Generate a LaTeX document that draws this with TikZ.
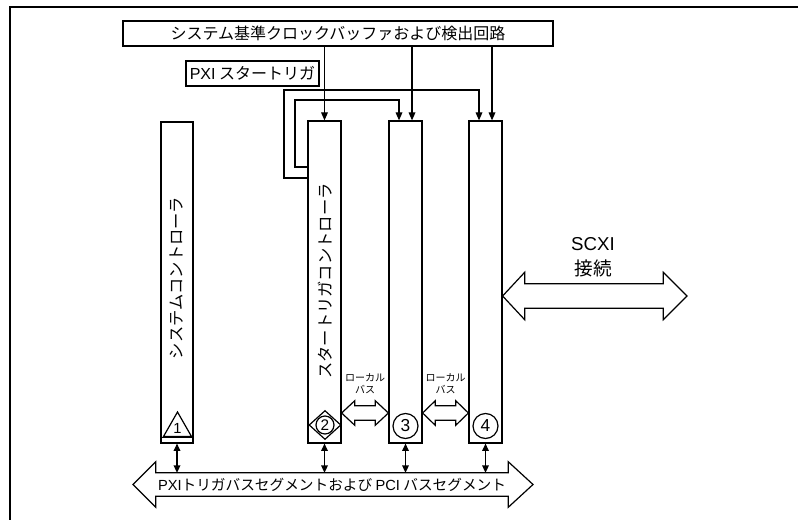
\documentclass[tikz,border=0pt]{standalone}
\usepackage{fontspec}
\setmainfont{Noto Sans CJK JP}
\newfontfamily\lat{Liberation Sans}
\usetikzlibrary{arrows.meta,calc,shapes.geometric}
\tikzset{
  ln/.style={line width=0.9pt},
  box/.style={draw, ln, inner sep=0pt, font=\fontsize{12}{14}\selectfont},
  module/.style={draw, ln, inner sep=0pt, minimum width=24.75pt, minimum height=241.5pt},
  vlabel/.style={rotate=90, inner sep=0pt, font=\fontsize{12.2}{14}\selectfont},
  arr/.style={ln, -{Triangle[length=6pt,width=5pt]}},
  darr/.style={ln, {Triangle[length=5.5pt,width=5pt]}-{Triangle[length=5.5pt,width=5pt]}},
  shaft/.style={inner sep=0pt},
  outline/.style={draw, ln, line join=miter},
  smalllbl/.style={align=center, inner sep=0pt, font=\fontsize{7.5}{9}\selectfont},
  badge/.style={draw, ln, circle, inner sep=0pt},
}
\newcommand\dblarrowpath[4]{%
  \draw[outline] (#1.north west) -- (#1.north east) -- ++(0,-#2) -- (#4)
    -- ($(#1.south east)+(0,#2)$) -- (#1.south east) -- (#1.south west)
    -- ++(0,#2) -- (#3) -- ($(#1.north west)+(0,-#2)$) -- cycle;}
\begin{document}
\begin{tikzpicture}[x=0.75pt,y=-0.75pt]
\useasboundingbox (0,0) rectangle (798,520);
% frame
\draw[line width=1.5pt, line join=miter] (798,7) -- (10,7) -- (10,520);

% top boxes
\node[box, minimum width=322.5pt, minimum height=18.75pt] (clk) at (338,33.5) {システム基準クロックバッファおよび検出回路};
\node[box, minimum width=99.75pt, minimum height=18.75pt] (pxi) at (252.5,73.5) {{\lat PXI} スタートリガ};

% modules
\node[module, minimum width=24pt, minimum height=240.75pt] (m1) at (177,282.5) {};
\node[module] (m2) at (324.5,282) {};
\node[module] (m3) at (405.5,282) {};
\node[module] (m4) at (485.5,282) {};

\node[vlabel] (t1) at (177,278) {システムコントローラ};
\node[vlabel] (t2) at (325,281) {スタートリガコントローラ};

% clock lines
\coordinate (x3) at (412,0);
\coordinate (x4) at (492,0);
\draw[arr] (clk.south -| m2.north) -- (m2.north);
\draw[arr] (clk.south -| x3) -- (x3 |- m3.north);
\draw[arr] (clk.south -| x4) -- (x4 |- m4.north);

% trigger loops
\coordinate (ia) at (295,167);
\coordinate (ib) at (295,100);
\coordinate (ic) at (399,100);
\draw[arr] (m2.west |- ia) -- (ia) -- (ib) -- (ic) -- (ic |- m3.north);
\coordinate (oa) at (284,178);
\coordinate (ob) at (284,90);
\coordinate (oc) at (479,90);
\draw[arr] (m2.west |- oa) -- (oa) -- (ob) -- (oc) -- (oc |- m4.north);

% badges
\coordinate (b1) at (177,437.5);
\draw[ln] (m1.west |- b1) -- (m1.east |- b1);
\draw[ln, line join=miter] (163.5,436.5) -- (177.5,412) -- (191.5,436.5) -- cycle;
\node[inner sep=0pt, font=\lat\fontsize{11}{12}\selectfont] (n1) at (177.5,428) {1};
\node[draw, ln, diamond, inner sep=0pt, minimum width=24pt, minimum height=21.75pt] (d2) at (325,425) {};
\node[badge, minimum size=13.5pt, font=\lat\fontsize{11.5}{12}\selectfont] (c2) at (325,425) {2};
\node[badge, minimum size=18.75pt, font=\lat\fontsize{13}{14}\selectfont] (c3) at (405.5,426) {3};
\node[badge, minimum size=18.75pt, font=\lat\fontsize{13}{14}\selectfont] (c4) at (485.5,426) {4};

% local buses
\node[shaft, minimum width=15pt, minimum height=10.5pt] (lb1) at (365,413) {};
\dblarrowpath{lb1}{5}{m2.east |- lb1}{m3.west |- lb1}
\node[smalllbl] (ll1) at (365,384) {ローカル\\バス};
\node[shaft, minimum width=15pt, minimum height=10.5pt] (lb2) at (445.5,413) {};
\dblarrowpath{lb2}{5}{m3.east |- lb2}{m4.west |- lb2}
\node[smalllbl] (ll2) at (445.5,384) {ローカル\\バス};

% SCXI
\node[shaft, minimum width=103.5pt, minimum height=18pt] (sc) at (594,296) {};
\coordinate (scR) at (687,296);
\dblarrowpath{sc}{11.5}{m4.east |- sc}{scR}
\node[align=center, inner sep=0pt, font=\fontsize{14}{19}\selectfont] (scl) at (593,257) {{\lat SCXI}\\接続};

% bottom bus
\node[shaft, minimum width=264pt, minimum height=17.25pt, font=\fontsize{11}{13}\selectfont] (bus) at (332,484.5) {{\lat PXI}トリガバスセグメントおよび {\lat PCI} バスセグメント};
\coordinate (busL) at (133,484.5);
\coordinate (busR) at (533,484.5);
\dblarrowpath{bus}{11}{busL}{busR}

\draw[darr] (m1.south) -- (m1.south |- bus.north);
\draw[darr] (m2.south) -- (m2.south |- bus.north);
\draw[darr] (m3.south) -- (m3.south |- bus.north);
\draw[darr] (m4.south) -- (m4.south |- bus.north);
\end{tikzpicture}
\end{document}
